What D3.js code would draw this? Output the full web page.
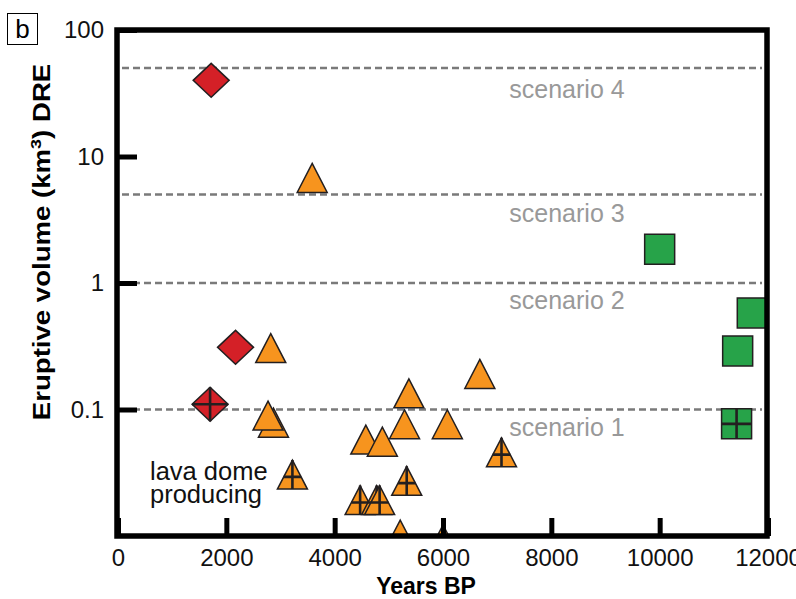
<!DOCTYPE html>
<html>
<head>
<meta charset="utf-8">
<script src="https://cdn.jsdelivr.net/npm/d3@7"></script>
<style>
  body { margin: 0; background: #fff; }
  svg { display: block; font-family: "Liberation Sans", Arial, sans-serif; }
</style>
</head>
<body>
<div id="chart"></div>
<script>
// axes
const xTicks = [0, 2000, 4000, 6000, 8000, 10000, 12000];
const yTicks = [100, 10, 1, 0.1];

// scenario lines (km3)
const scenarioValues = [0.1, 1, 5, 50];
const scenarioLabels = ["scenario 1", "scenario 2", "scenario 3", "scenario 4"];

// red diamonds
const diamondYears = [1720, 2170, 1700];
const diamondVolumes = [40, 0.31, 0.11];
const diamondDome = [false, false, true];

// orange triangles (draw order matters for overlaps)
const triangleYears = [3585, 2820, 2870, 2770, 3220, 4575, 4880, 5370, 5290, 6080, 6680, 7080, 5330, 4470, 4775, 4830, 5210, 6000];
const triangleVolumes = [6.2, 0.28, 0.072, 0.082, 0.028, 0.053, 0.051, 0.123, 0.07, 0.07, 0.175, 0.042, 0.025, 0.0176, 0.0176, 0.0176, 0.0094, 0.0086];
const triangleDome = [false, false, false, false, true, false, false, false, false, false, false, true, true, true, true, true, false, false];

// green squares
const squareYears = [10000, 11710, 11440, 11420];
const squareVolumes = [1.85, 0.58, 0.29, 0.077];
const squareDome = [false, false, false, true];

const width = 796, height = 599;

const svg = d3.select("#chart").append("svg")
    .attr("width", width)
    .attr("height", height);

const x = d3.scaleLinear().domain([0, 12000]).range([118, 768]);
const y = d3.scaleLog().domain([0.01, 100]).range([536, 30]);

svg.append("clipPath").attr("id", "plotClip")
  .append("rect")
    .attr("x", x(0)).attr("y", y(100))
    .attr("width", x(12000) - x(0)).attr("height", y(0.01) - y(100));

// panel letter
svg.append("rect")
    .attr("x", 7.5).attr("y", 13.5).attr("width", 30).attr("height", 31)
    .attr("fill", "none").attr("stroke", "#000").attr("stroke-width", 1);
svg.append("text")
    .attr("x", 22.5).attr("y", 38)
    .attr("text-anchor", "middle")
    .attr("font-size", 26)
    .text("b");

// dashed scenario lines + labels
const labelDy = [26, 26, 27, 30];
scenarioValues.forEach((v, i) => {
    svg.append("line")
        .attr("x1", 122).attr("x2", 762)
        .attr("y1", y(v)).attr("y2", y(v))
        .attr("stroke", "#7a7a7a")
        .attr("stroke-width", 2.5)
        .attr("stroke-dasharray", "7,4");
    svg.append("text")
        .attr("x", 567).attr("y", y(v) + labelDy[i])
        .attr("text-anchor", "middle")
        .attr("font-size", 25)
        .attr("fill", "#999")
        .text(scenarioLabels[i]);
});

// markers
const marks = svg.append("g").attr("clip-path", "url(#plotClip)");
const mStroke = "#231f20";

const triW = 30, triH = 29;
const triPath = `M0,${-2 * triH / 3}L${triW / 2},${triH / 3}L${-triW / 2},${triH / 3}Z`;
const crossY = -2 * triH / 3 + 0.58 * triH, crossHalf = triW / 2 * 0.58;
const triCross = `M0,${-2 * triH / 3}L0,${triH / 3}M${-crossHalf},${crossY}L${crossHalf},${crossY}`;

const diaPath = "M0,-17L18,0L0,17L-18,0Z";
const diaCross = "M-18,0L18,0M0,-17L0,17";
const sqPath = "M-15,-15L15,-15L15,15L-15,15Z";
const sqCross = "M-15,0L15,0M0,-15L0,15";

function drawMarks(years, vols, dome, shape, cross, fill) {
    years.forEach((yr, i) => {
        const g = marks.append("g")
            .attr("transform", `translate(${x(yr)},${y(vols[i])})`);
        g.append("path")
            .attr("d", shape)
            .attr("fill", fill)
            .attr("stroke", mStroke)
            .attr("stroke-width", 1.5)
            .attr("stroke-linejoin", "miter");
        if (dome[i]) {
            g.append("path")
                .attr("d", cross)
                .attr("fill", "none")
                .attr("stroke", mStroke)
                .attr("stroke-width", 2.6);
        }
    });
}

drawMarks(squareYears, squareVolumes, squareDome, sqPath, sqCross, "#27a349");
drawMarks(triangleYears, triangleVolumes, triangleDome, triPath, triCross, "#f7941e");
drawMarks(diamondYears, diamondVolumes, diamondDome, diaPath, diaCross, "#d42027");

// axes (inward ticks)
const xAxis = d3.axisBottom(x)
    .tickValues(xTicks)
    .tickFormat(d3.format("d"))
    .tickSizeInner(-18).tickSizeOuter(0).tickPadding(13);
const gx = svg.append("g")
    .attr("transform", `translate(0,${y(0.01)})`)
    .call(xAxis);

const yAxis = d3.axisLeft(y)
    .tickValues(yTicks)
    .tickFormat(d => d3.format("~g")(d))
    .tickSizeInner(-19).tickSizeOuter(0).tickPadding(14);
const gy = svg.append("g")
    .attr("transform", `translate(${x(0)},0)`)
    .call(yAxis);

[gx, gy].forEach(g => {
    g.select(".domain").remove();
    g.selectAll(".tick line").attr("stroke", "#000").attr("stroke-width", 5);
    g.selectAll(".tick text")
        .attr("fill", "#111")
        .attr("font-size", 24)
        .attr("font-family", "Liberation Sans, Arial, sans-serif");
});

// frame
svg.append("rect")
    .attr("x", x(0) - 1).attr("y", y(100))
    .attr("width", x(12000) - x(0)).attr("height", y(0.01) - y(100))
    .attr("fill", "none")
    .attr("stroke", "#000")
    .attr("stroke-width", 5.5);

// axis titles
svg.append("text")
    .attr("x", 426).attr("y", 594)
    .attr("text-anchor", "middle")
    .attr("font-size", 23)
    .attr("font-weight", "bold")
    .text("Years BP");

const yl = svg.append("text")
    .attr("transform", "translate(50,242) rotate(-90) scale(1.2,1)")
    .attr("text-anchor", "middle")
    .attr("font-size", 23)
    .attr("font-weight", "bold");
yl.append("tspan").text("Eruptive volume (km");
yl.append("tspan").attr("font-size", 15).attr("dy", -9).text("3");
yl.append("tspan").attr("dy", 9).text(") DRE");

// annotation
const note = svg.append("text")
    .attr("font-size", 25.5)
    .attr("fill", "#111");
note.append("tspan").attr("x", 150).attr("y", 480).text("lava dome");
note.append("tspan").attr("x", 150).attr("y", 503).text("producing");
</script>
</body>
</html>
